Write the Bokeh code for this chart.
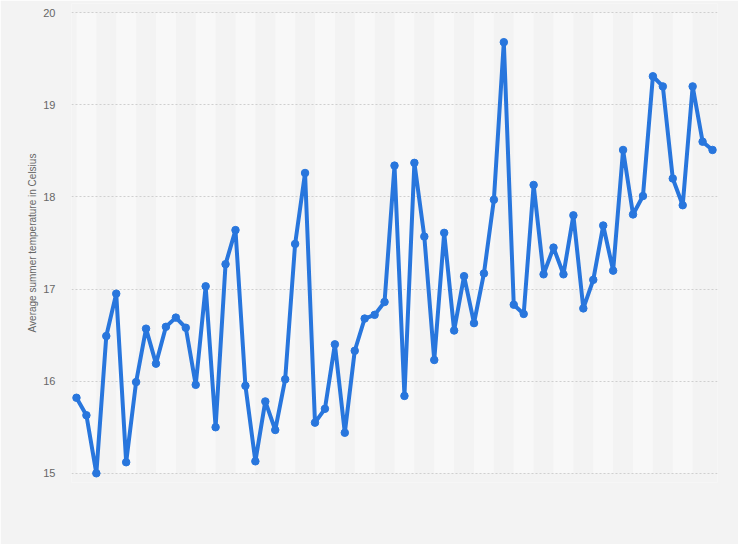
from bokeh.plotting import figure
from bokeh.models import Range1d, FixedTicker
from bokeh.embed import file_html
from bokeh.resources import INLINE

years = list(range(1960, 2025))
temps = [15.82, 15.63, 15.00, 16.49, 16.95, 15.12, 15.99, 16.57, 16.19, 16.59,
         16.69, 16.58, 15.96, 17.03, 15.50, 17.27, 17.64, 15.95, 15.13, 15.78,
         15.47, 16.02, 17.49, 18.26, 15.55, 15.70, 16.40, 15.44, 16.33, 16.68,
         16.72, 16.86, 18.34, 15.84, 18.37, 17.57, 16.23, 17.61, 16.55, 17.14,
         16.63, 17.17, 17.97, 19.68, 16.83, 16.73, 18.13, 17.16, 17.45, 17.16,
         17.80, 16.79, 17.10, 17.69, 17.20, 18.51, 17.81, 18.01, 19.31, 19.20,
         18.20, 17.91, 19.20, 18.60, 18.51]
y_ticks = [15, 16, 17, 18, 19, 20]
y_label = "Average summer temperature in Celsius"

BG = "#f3f3f3"
BAND = "#f8f8f8"
BLUE = "#2876dd"

p = figure(width=738, height=544, output_backend="svg", toolbar_location=None,
           x_range=Range1d(years[0] - 0.5, years[-1] + 0.5),
           y_range=Range1d(14.9, 20.1),
           min_border_left=71, min_border_right=21,
           min_border_top=3, min_border_bottom=62)

p.background_fill_color = BG
p.border_fill_color = BG
p.outline_line_color = None

# alternating light bands (every other pair of years)
band_left = [y for y in years[::4]][:-1]
band_right = [y + 2 for y in band_left]
p.quad(left=band_left, right=band_right, bottom=y_ticks[0], top=y_ticks[-1],
       fill_color=BAND, line_color=None, level="image")

p.line(years, temps, line_color=BLUE, line_width=4, line_join="round")
p.scatter(years, temps, size=7.5, fill_color=BLUE, line_color=BLUE)

p.xaxis.visible = False
p.xgrid.visible = False

p.ygrid.grid_line_color = "#cfcfcf"
p.ygrid.grid_line_dash = "2 2"
p.ygrid.grid_line_width = 1
p.ygrid.level = "underlay"

yax = p.yaxis[0]
yax.ticker = FixedTicker(ticks=y_ticks)
yax.axis_line_color = None
yax.major_tick_line_color = None
yax.minor_tick_line_color = None
yax.major_tick_out = 0
yax.major_tick_in = 0
yax.minor_tick_out = 0
yax.major_label_standoff = 16
yax.major_label_text_font = "Liberation Sans"
yax.major_label_text_font_size = "11px"
yax.major_label_text_color = "#666666"
yax.axis_label = y_label
yax.axis_label_standoff = 2
yax.axis_label_text_font = "Liberation Sans"
yax.axis_label_text_font_size = "10px"
yax.axis_label_text_font_style = "normal"
yax.axis_label_text_color = "#666666"

open("out.html", "w").write(file_html(p, INLINE))
